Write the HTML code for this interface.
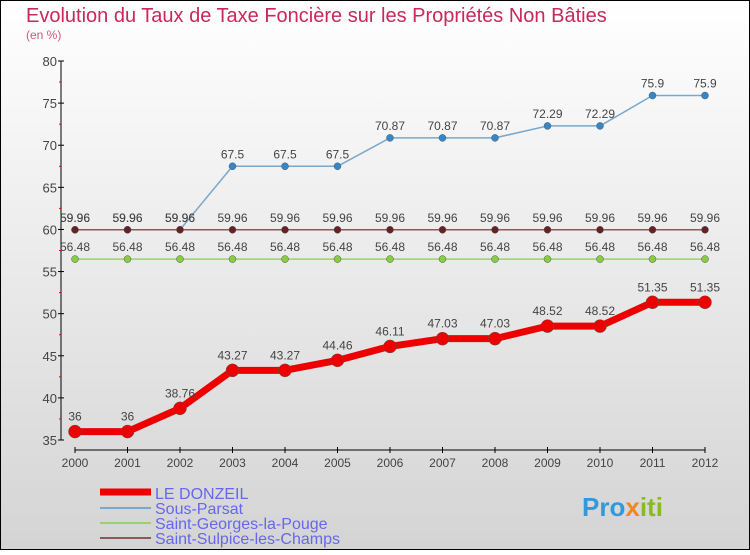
<!DOCTYPE html>
<html><head><meta charset="utf-8"><style>
body{margin:0}
#c{width:750px;height:550px;position:relative;font-family:"Liberation Sans",sans-serif}
text{font-family:"Liberation Sans",sans-serif}
</style></head><body>
<div id="c">
<svg id="s" width="750" height="550" xmlns="http://www.w3.org/2000/svg">
<defs><linearGradient id="bg" x1="0" y1="0" x2="0" y2="1"><stop offset="0" stop-color="#ffffff"/><stop offset="1" stop-color="#d4d4d4"/></linearGradient></defs>
<rect x="0.5" y="0.5" width="749" height="549" fill="url(#bg)" stroke="#000"/>
<text x="26" y="22" font-size="20" fill="#c8285a">Evolution du Taux de Taxe Foncière sur les Propriétés Non Bâties</text>
<text x="26" y="39" font-size="12" fill="#d05580">(en %)</text>
<g id="axes"></g><g id="series"></g>
<g>
<line x1="100" y1="492" x2="151" y2="492" stroke="#e00" stroke-width="7"/><text x="155" y="499" font-size="16" fill="#6666ee">LE DONZEIL</text>
<line x1="100" y1="508" x2="151" y2="508" stroke="#7aa8cc" stroke-width="2"/><text x="155" y="514" font-size="16" fill="#6666ee">Sous-Parsat</text>
<line x1="100" y1="523" x2="151" y2="523" stroke="#99d077" stroke-width="2"/><text x="155" y="529" font-size="16" fill="#6666ee">Saint-Georges-la-Pouge</text>
<line x1="100" y1="538" x2="151" y2="538" stroke="#8a5a5a" stroke-width="2"/><text x="155" y="544" font-size="16" fill="#6666ee">Saint-Sulpice-les-Champs</text>
</g>
<text x="582" y="516" font-size="26" font-weight="bold" fill="#3399dd">Pro<tspan fill="#ee8822">x</tspan><tspan fill="#88bb22">iti</tspan></text>
</svg></div>
<script>
const years=[2000,2001,2002,2003,2004,2005,2006,2007,2008,2009,2010,2011,2012];
const yTicks=[35,40,45,50,55,60,65,70,75,80];
const donzeil=[36,36,38.76,43.27,43.27,44.46,46.11,47.03,47.03,48.52,48.52,51.35,51.35];
const sousParsat=[59.96,59.96,59.96,67.5,67.5,67.5,70.87,70.87,70.87,72.29,72.29,75.9,75.9];
const stGeorges=[56.48,56.48,56.48,56.48,56.48,56.48,56.48,56.48,56.48,56.48,56.48,56.48,56.48];
const stSulpice=[59.96,59.96,59.96,59.96,59.96,59.96,59.96,59.96,59.96,59.96,59.96,59.96,59.96];
const NS="http://www.w3.org/2000/svg";
const X=i=>75+i*(630/(years.length-1));
const Y=v=>440-(v-35)*(379/45);
function mk(t,a,p){const e=document.createElementNS(NS,t);for(const k in a)e.setAttribute(k,a[k]);p.appendChild(e);return e;}
const ax=document.getElementById('axes');
let l=mk('line',{x1:61,y1:Y(80),x2:61,y2:Y(35),stroke:'#000'},ax);


l=mk('line',{x1:75,y1:450,x2:705,y2:450,stroke:'#000'},ax);


yTicks.forEach((v,i)=>{mk('line',{x1:58,x2:64,y1:Y(v),y2:Y(v),stroke:'#000'},ax);
 if(i<yTicks.length-1)mk('line',{x1:59,x2:61,y1:Y(v+2.5),y2:Y(v+2.5),stroke:'#e00'},ax);
 const t=mk('text',{x:57,y:Y(v)+5,'font-size':13,fill:'#444','text-anchor':'end'},ax);t.textContent=v;
 
 });
years.forEach((y,i)=>{mk('line',{x1:X(i),x2:X(i),y1:447,y2:453,stroke:'#000'},ax);
 const t=mk('text',{x:X(i),y:467,'font-size':12,fill:'#444','text-anchor':'middle'},ax);t.textContent=y;
 
 });
const sg=document.getElementById('series');
function series(vals,color,w,r,name,fill,off){
 const g=mk('g',{},sg);
 
 
 mk('polyline',{points:vals.map((v,i)=>X(i)+','+Y(v)).join(' '),fill:'none',stroke:color,'stroke-width':w,'stroke-linejoin':'round'},g);
 vals.forEach((v,i)=>{const c=mk('circle',{cx:X(i),cy:Y(v),r:r,fill:fill,stroke:'#555','stroke-width':0.5},g);
  
  
  const t=mk('text',{x:X(i),y:Y(v)-off,'font-size':12,fill:'#444','text-anchor':'middle'},g);t.textContent=v;
  
  });
}
series(stGeorges,'#99d077',1.5,3.5,'series-saint-georges','#88cc44',8);
series(sousParsat,'#7aa8cc',1.5,3.5,'series-sous-parsat','#3388cc',8);
series(stSulpice,'#8a5a5a',1.5,3.5,'series-saint-sulpice','#662222',8);
series(donzeil,'#ee0000',7,6.5,'series-le-donzeil','#ee0000',11);
</script>
</body></html>
